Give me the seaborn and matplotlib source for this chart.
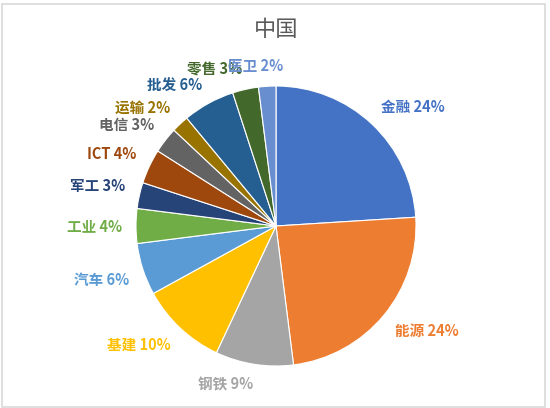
import numpy as np
import matplotlib
matplotlib.use("Agg")
import matplotlib.pyplot as plt
import seaborn as sns
from matplotlib.patches import Rectangle

categories = ["金融", "能源", "钢铁", "基建", "汽车", "工业", "军工", "ICT", "电信", "运输", "批发", "零售", "医卫"]
values = [24, 24, 9, 10, 6, 4, 3, 4, 3, 2, 6, 3, 2]
colors = ["#4472C4", "#ED7D31", "#A5A5A5", "#FFC000", "#5B9BD5", "#70AD47",
          "#264478", "#9E480E", "#636363", "#997300", "#255E91", "#43682B", "#698ED0"]
title = "中国"

sns.set_theme(style="white")
plt.rcParams['font.family'] = ['Noto Sans CJK SC', 'DejaVu Sans']

W, H = 550, 408
fig = plt.figure(figsize=(W / 100, H / 100), dpi=100)
cx, cy, R = 276, 226, 140
ax = fig.add_axes([0, 0, 1, 1])

wedges, _ = ax.pie(values, colors=colors, startangle=90, counterclock=False,
                   radius=1.0, wedgeprops=dict(edgecolor='white', linewidth=0.8))
ax.set_aspect('auto')
ax.set_xlim(-cx / R, (W - cx) / R)
ax.set_ylim(-(H - cy) / R, cy / R)
ax.axis('off')

total = sum(values)
fig.canvas.draw()
renderer = fig.canvas.get_renderer()
cum = 0
for cat, v, col in zip(categories, values, colors):
    mid = (cum + v / 2) / total
    cum += v
    th = 2 * np.pi * mid
    s, c = np.sin(th), np.cos(th)
    ax_x, ax_y = 1.1 * s, 1.1 * c
    t = ax.text(ax_x, ax_y, f"{cat} {v}%", ha='center', va='center',
                fontsize=10.5, fontweight='semibold', color=col)
    bb = t.get_window_extent(renderer)
    w, h = bb.width, bb.height
    fx = np.clip(3 * s, -0.5, 0.5)
    fy = np.clip(3 * c, -0.5, 0.5)
    t.set_position((ax_x + fx * w / R, ax_y + fy * h * 0.8 / R))

fig.text(cx / W, 1 - 29 / H, title, ha='center', va='center', fontsize=16, color='#595959')

fig.patches.append(Rectangle((1.5 / W, 1.5 / H), (545 - 1.5) / W, (406 - 1.5 - 1.5) / H,
                             transform=fig.transFigure, fill=False,
                             edgecolor='#D9D9D9', linewidth=1.2))

fig.savefig("out.png", dpi=100, facecolor='white')
